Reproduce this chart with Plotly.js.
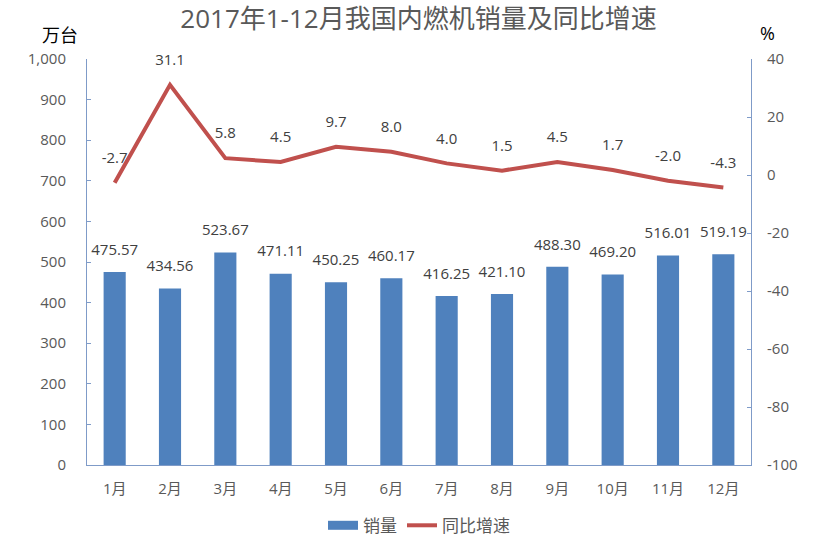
<!DOCTYPE html>
<html><head><meta charset="utf-8">
<script src="https://cdn.plot.ly/plotly-3.0.1.min.js"></script>
<style>html,body{margin:0;padding:0;background:#fff}</style>
</head><body>
<div id="chart" style="width:837px;height:542px"></div>
<script>
const months = ['1月','2月','3月','4月','5月','6月','7月','8月','9月','10月','11月','12月'];
const sales = [475.57, 434.56, 523.67, 471.11, 450.25, 460.17, 416.25, 421.10, 488.30, 469.20, 516.01, 519.19];
const growth = [-2.7, 31.1, 5.8, 4.5, 9.7, 8.0, 4.0, 1.5, 4.5, 1.7, -2.0, -4.3];
const y2TickVals = [-100, -80, -60, -40, -20, 0, 20, 40];
const y2TickText = ['-100', '-80', '-60', '-40', '-20', '0', '20', '40'];

const FONT = '"Open Sans", "Noto Sans CJK SC", sans-serif';
const axisColor = '#7f9bc8';
const clear = 'rgba(0,0,0,0)';

const traces = [
  {
    type: 'bar', name: '销量', x: months, y: sales, showlegend: false,
    marker: {color: '#4f81bd'}, hoverinfo: 'none'
  },
  {
    type: 'scatter', mode: 'markers+text', x: months, y: sales, showlegend: false,
    marker: {size: 20, color: clear},
    text: sales.map(v => v.toFixed(2)), textposition: 'top center',
    textfont: {family: FONT, size: 15, color: '#404040'},
    cliponaxis: false, hoverinfo: 'none'
  },
  {
    type: 'scatter', mode: 'lines', name: '销量', x: [null], y: [null],
    line: {color: '#4f81bd', width: 9}, hoverinfo: 'none'
  },
  {
    type: 'scatter', mode: 'lines+markers+text', name: '同比增速', x: months, y: growth, yaxis: 'y2',
    line: {color: '#c0504d', width: 4},
    marker: {size: 24, color: clear},
    text: growth.map(v => v.toFixed(1)), textposition: 'top center',
    textfont: {family: FONT, size: 15, color: '#404040'},
    cliponaxis: false, hoverinfo: 'none'
  }
];

const layout = {
  width: 837, height: 542,
  margin: {l: 87, r: 86, t: 59, b: 77},
  paper_bgcolor: '#fff', plot_bgcolor: '#fff',
  font: {family: FONT, size: 15, color: '#595959'},
  title: {text: '2017年1-12月我国内燃机销量及同比增速', x: 0.5, xanchor: 'center', yref: 'container', y: 0.966, yanchor: 'middle',
          font: {family: FONT, size: 26, color: '#595959'}},
  bargap: 0.6,
  showlegend: true,
  legend: {orientation: 'h', x: 0.5, xanchor: 'center', yref: 'container', y: 0.03, yanchor: 'middle',
           font: {family: FONT, size: 17, color: '#595959'}},
  xaxis: {
    range: [-0.5, 11.5],
    showline: true, linecolor: axisColor, linewidth: 1, ticks: '', showgrid: false,
    tickfont: {family: FONT, size: 15, color: '#595959'}, zeroline: false, ticklabelstandoff: 10
  },
  yaxis: {
    range: [0, 1000], dtick: 100, tickformat: ',d', showgrid: false, zeroline: false,
    showline: true, linecolor: axisColor, linewidth: 1, ticks: 'inside', ticklen: 4, tickcolor: axisColor,
    tickfont: {family: FONT, size: 15, color: '#595959'}, ticklabelstandoff: 17
  },
  yaxis2: {
    range: [-100, 40], tickmode: 'array', tickvals: y2TickVals, ticktext: y2TickText,
    overlaying: 'y', side: 'right', showgrid: false, zeroline: false,
    showline: true, linecolor: axisColor, linewidth: 1, ticks: 'inside', ticklen: 4, tickcolor: axisColor,
    tickfont: {family: FONT, size: 15, color: '#595959'}, ticklabelstandoff: 12
  },
  annotations: [
    {text: '万台', xref: 'paper', yref: 'paper', x: -0.04, y: 1.06, xanchor: 'center', yanchor: 'middle',
     showarrow: false, font: {family: FONT, size: 18, color: '#000'}},
    {text: '%', xref: 'paper', yref: 'paper', x: 1.025, y: 1.065, xanchor: 'center', yanchor: 'middle',
     showarrow: false, font: {family: FONT, size: 18, color: '#000'}}
  ]
};

Plotly.newPlot('chart', traces, layout, {displayModeBar: false, staticPlot: true});
</script>
</body></html>
